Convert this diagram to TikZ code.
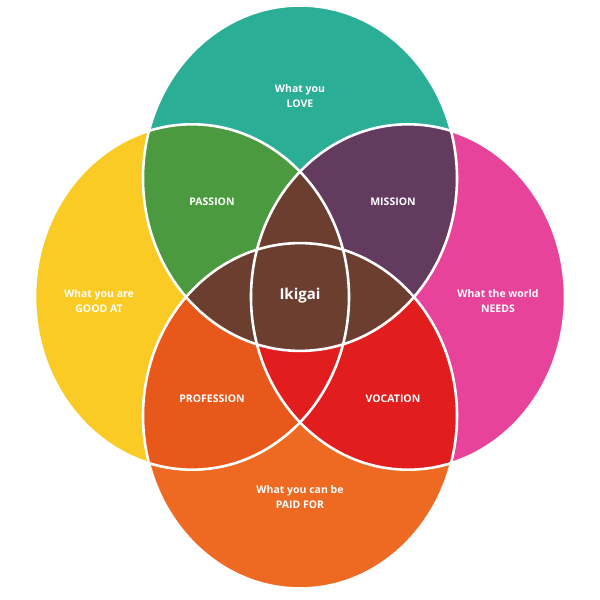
\documentclass[tikz,border=0pt]{standalone}
\usepackage{fontspec}
\setmainfont{Open Sans}
\definecolor{cT}{HTML}{2BAE96}
\definecolor{cL}{HTML}{F9CB24}
\definecolor{cR}{HTML}{E8439A}
\definecolor{cB}{HTML}{EE6A22}
\definecolor{cTL}{HTML}{4C9A3F}
\definecolor{cTR}{HTML}{623B5E}
\definecolor{cLB}{HTML}{E8581A}
\definecolor{cRB}{HTML}{E11D1D}
\definecolor{cBr}{HTML}{6B3E30}
\tikzset{lbl/.style={text=white,font=\bfseries\fontsize{10.5}{15}\selectfont,align=center},
 ring/.style={draw=white,line width=2.6pt}}
\def\cT{(0,108) circle (157)}
\def\cB{(0,-108) circle (157)}
\def\cL{(-108,0) circle (157)}
\def\cR{(108,0) circle (157)}
\begin{document}
\begin{tikzpicture}[x=1pt,y=1pt]
\useasboundingbox (-300,-303) rectangle (300,297);
\fill[white] (-300,-303) rectangle (300,297);
\begin{scope}[yscale=1.1]
\fill[cT] \cT; \fill[cL] \cL; \fill[cR] \cR; \fill[cB] \cB;
\begin{scope}\clip \cT; \fill[cTL] \cL; \fill[cTR] \cR; \fill[cBr] \cB; \end{scope}
\begin{scope}\clip \cB; \fill[cLB] \cL; \fill[cRB] \cR; \fill[cBr] \cT; \end{scope}
\begin{scope}\clip \cL; \clip \cR; \fill[cBr] \cT; \fill[cRB] \cB;
 \begin{scope}\clip \cT; \fill[cBr] \cB; \end{scope}\end{scope}
\draw[ring] \cT; \draw[ring] \cL; \draw[ring] \cR; \draw[ring] \cB;
\end{scope}
\node[lbl] (love) at (0,201) {What you\\LOVE};
\node[lbl] (good) at (-201,-4) {What you are\\GOOD AT};
\node[lbl] (needs) at (198,-4) {What the world\\NEEDS};
\node[lbl] (paid) at (0,-200) {What you can be\\PAID FOR};
\node[lbl] (passion) at (-88,95) {PASSION};
\node[lbl] (mission) at (93,95) {MISSION};
\node[lbl] (profession) at (-88,-102) {PROFESSION};
\node[lbl] (vocation) at (93,-102) {VOCATION};
\node[lbl,font=\bfseries\fontsize{15}{18}\selectfont] (ikigai) at (0,1) {Ikigai};
\end{tikzpicture}
\end{document}
